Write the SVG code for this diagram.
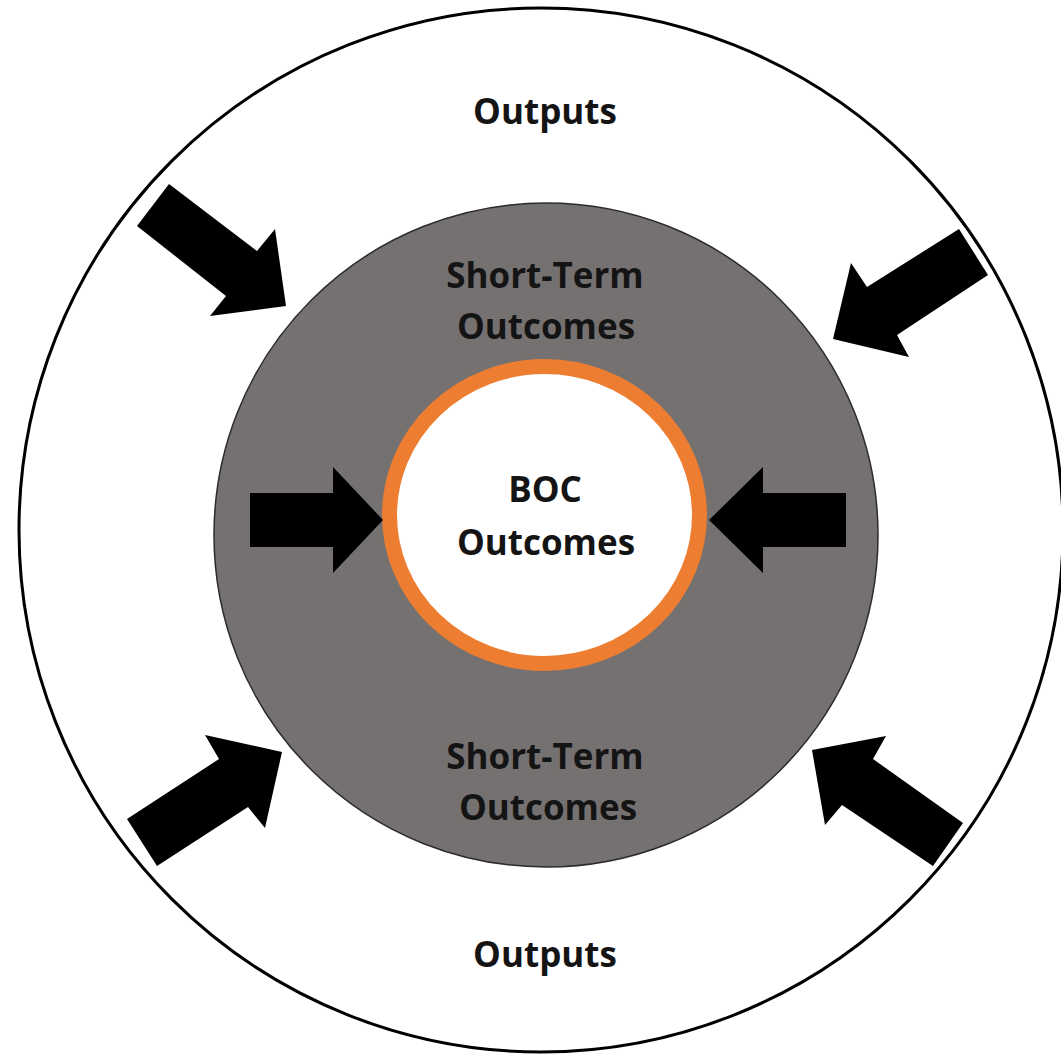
<svg xmlns="http://www.w3.org/2000/svg" width="1061" height="1059" viewBox="0 0 1061 1059">
<style>
.lbl{font-family:"Open Sans","Liberation Sans",sans-serif;font-weight:700;font-size:35px;fill:#141414;text-anchor:middle}
.arr{fill:#000}
</style>
<rect width="1061" height="1059" fill="#fff"/>
<g id="outputs">
<circle cx="541" cy="530" r="522" fill="#fff" stroke="#000" stroke-width="3"/>
<text class="lbl" x="545" y="124">Outputs</text>
<text class="lbl" x="545" y="967">Outputs</text>
</g>
<g id="short-term">
<circle cx="546" cy="535" r="332" fill="#757171" stroke="#2b2b2b" stroke-width="1.5"/>
<text class="lbl" x="545" y="288">Short-Term</text>
<text class="lbl" x="546" y="339">Outcomes</text>
<text class="lbl" x="545" y="769">Short-Term</text>
<text class="lbl" x="548" y="820">Outcomes</text>
</g>
<g id="boc">
<ellipse cx="544.5" cy="515" rx="155" ry="148.5" fill="#fff" stroke="#ED7D31" stroke-width="15"/>
<text class="lbl" x="545" y="502">BOC</text>
<text class="lbl" x="546" y="555">Outcomes</text>
</g>
<g id="connectors">
<polygon class="arr" points="169,184 257,251 275,229 286,306 210,316 226,296 137,226"/>
<polygon class="arr" points="959,229 988,275 897,335 909,357 833,339 851,263 867,287"/>
<polygon class="arr" points="250,493 333,493 333,467 383,520 333,573 333,547 250,547"/>
<polygon class="arr" points="709,520 763,467 763,493 846,493 846,547 763,547 763,573"/>
<polygon class="arr" points="127,819 219,759 205,735 282,752 265,828 248,807 157,866"/>
<polygon class="arr" points="812,750 886,736 873,759 963,823 933,866 842,805 825,825"/>
</g>
</svg>
